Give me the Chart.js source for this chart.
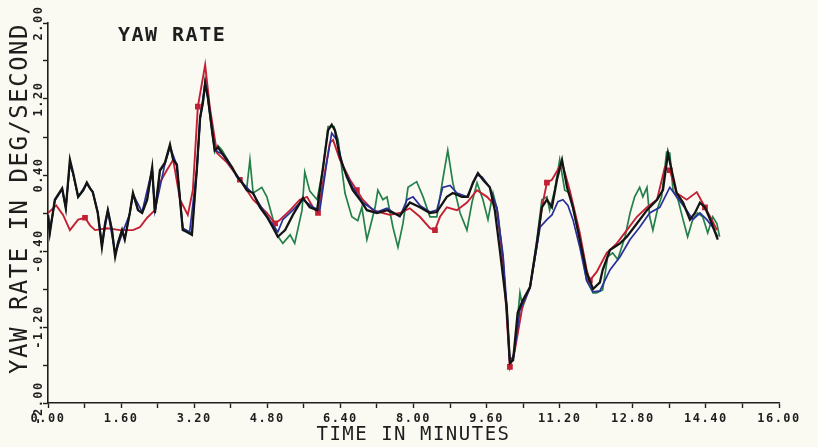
<!DOCTYPE html>
<html>
<head>
<meta charset="utf-8">
<script src="https://cdn.jsdelivr.net/npm/chart.js"></script>
<style>
  html, body { margin: 0; padding: 0; background: #fafaf3; }
  canvas { display: block; }
</style>
</head>
<body>
<canvas id="yawChart" width="818" height="447"></canvas>
<script>
// yaw rate traces: time in minutes, rate in deg/s
const blackTime = [0.00,0.04,0.15,0.31,0.39,0.48,0.55,0.66,0.77,0.85,0.92,0.98,1.09,1.18,1.25,1.31,1.40,1.47,1.53,1.62,1.68,1.79,1.86,1.97,2.06,2.17,2.28,2.34,2.45,2.56,2.67,2.74,2.82,2.95,3.04,3.15,3.26,3.33,3.39,3.44,3.50,3.59,3.65,3.72,3.81,3.92,4.03,4.14,4.25,4.35,4.49,4.64,4.79,4.92,5.03,5.19,5.36,5.58,5.73,5.89,6.02,6.13,6.21,6.28,6.39,6.54,6.67,6.83,6.98,7.20,7.42,7.70,7.92,8.14,8.36,8.51,8.73,8.86,9.06,9.19,9.30,9.41,9.52,9.67,9.78,9.89,10.04,10.11,10.18,10.28,10.39,10.55,10.70,10.81,10.92,11.03,11.14,11.25,11.36,11.49,11.64,11.79,11.93,12.08,12.14,12.30,12.52,12.67,12.89,13.11,13.33,13.46,13.57,13.65,13.76,13.90,14.05,14.16,14.27,14.38,14.53,14.66];
const blackYaw = [-0.02,-0.21,0.14,0.26,0.05,0.56,0.42,0.17,0.24,0.32,0.26,0.22,0.00,-0.36,-0.11,0.03,-0.18,-0.46,-0.32,-0.18,-0.28,0.00,0.21,0.03,0.00,0.14,0.48,0.00,0.45,0.53,0.72,0.56,0.51,-0.18,-0.20,-0.23,0.48,1.01,1.16,1.36,1.22,0.87,0.66,0.69,0.63,0.56,0.48,0.38,0.32,0.24,0.21,0.06,-0.04,-0.15,-0.25,-0.18,-0.02,0.16,0.06,0.03,0.48,0.87,0.93,0.87,0.59,0.38,0.24,0.14,0.03,0.00,0.03,-0.03,0.11,0.06,0.00,0.01,0.17,0.21,0.17,0.17,0.32,0.42,0.35,0.27,0.03,-0.39,-0.99,-1.58,-1.55,-1.05,-0.92,-0.78,-0.32,0.06,0.14,0.06,0.35,0.56,0.27,0.06,-0.28,-0.63,-0.80,-0.73,-0.60,-0.39,-0.32,-0.25,-0.11,0.03,0.14,0.24,0.63,0.45,0.21,0.11,-0.07,0.00,0.11,0.06,-0.11,-0.28];

const blueTime = [0.00,0.04,0.15,0.31,0.39,0.48,0.55,0.66,0.85,0.98,1.09,1.18,1.31,1.47,1.62,1.79,1.86,2.06,2.28,2.34,2.56,2.67,2.82,2.95,3.10,3.26,3.33,3.44,3.50,3.65,3.81,4.03,4.25,4.49,4.79,5.03,5.14,5.36,5.58,5.80,5.95,6.11,6.21,6.32,6.46,6.67,6.89,7.20,7.42,7.70,7.86,7.99,8.14,8.36,8.51,8.64,8.80,8.95,9.17,9.39,9.50,9.67,9.82,9.96,10.04,10.11,10.20,10.33,10.55,10.77,10.92,11.03,11.16,11.27,11.38,11.49,11.64,11.79,11.93,12.08,12.30,12.52,12.74,12.95,13.17,13.39,13.61,13.76,13.98,14.11,14.27,14.42,14.55,14.66];
const blueYaw = [-0.02,-0.19,0.13,0.25,0.06,0.52,0.41,0.17,0.31,0.22,0.01,-0.34,0.02,-0.43,-0.22,-0.01,0.20,0.01,0.46,0.02,0.52,0.70,0.50,-0.16,-0.20,0.46,0.99,1.38,1.20,0.66,0.62,0.47,0.32,0.20,-0.03,-0.20,-0.07,0.03,0.14,0.06,0.03,0.56,0.84,0.77,0.48,0.27,0.11,0.01,0.05,-0.04,0.14,0.17,0.08,0.01,0.03,0.27,0.29,0.21,0.17,0.40,0.38,0.27,0.06,-0.44,-0.97,-1.57,-1.49,-1.02,-0.79,-0.15,-0.07,-0.02,0.12,0.14,0.08,-0.07,-0.36,-0.71,-0.83,-0.82,-0.60,-0.46,-0.28,-0.15,0.00,0.06,0.27,0.17,0.03,-0.07,0.00,-0.07,-0.15,-0.25];

const redTime = [0.00,0.18,0.33,0.48,0.66,0.81,0.92,1.03,1.29,1.58,1.86,2.01,2.17,2.34,2.45,2.60,2.74,2.89,3.06,3.17,3.28,3.44,3.54,3.70,3.92,4.20,4.49,4.79,4.97,5.08,5.30,5.51,5.67,5.80,5.91,6.02,6.17,6.24,6.39,6.61,6.76,6.89,7.11,7.33,7.48,7.70,7.92,8.14,8.36,8.47,8.58,8.73,8.95,9.17,9.39,9.61,9.82,9.96,10.11,10.22,10.39,10.55,10.70,10.81,10.92,11.03,11.25,11.42,11.64,11.79,11.86,12.01,12.23,12.45,12.67,12.89,13.11,13.33,13.50,13.61,13.76,13.98,14.20,14.38,14.53,14.64];
const redYaw = [0.00,0.08,-0.02,-0.18,-0.07,-0.05,-0.13,-0.18,-0.16,-0.18,-0.18,-0.15,-0.05,0.03,0.32,0.45,0.56,0.14,-0.02,0.24,1.12,1.56,1.12,0.63,0.53,0.35,0.14,0.00,-0.11,-0.07,0.03,0.14,0.17,0.06,0.00,0.32,0.74,0.77,0.56,0.35,0.24,0.14,0.03,0.00,-0.02,0.00,0.05,-0.04,-0.16,-0.18,-0.04,0.06,0.03,0.11,0.24,0.17,0.06,-0.49,-1.62,-1.44,-0.97,-0.78,-0.34,0.06,0.32,0.35,0.53,0.24,-0.21,-0.60,-0.71,-0.62,-0.42,-0.32,-0.18,-0.04,0.06,0.14,0.48,0.45,0.21,0.14,0.22,0.06,-0.07,-0.18];
const redMarkTimes = [0.81,3.28,4.20,4.97,5.91,6.76,8.47,10.11,10.92,11.86,13.61,14.38];

const greenTime = [0.00,0.04,0.15,0.31,0.39,0.48,0.55,0.66,0.77,0.85,0.98,1.09,1.18,1.25,1.31,1.40,1.47,1.53,1.62,1.68,1.79,1.86,1.97,2.06,2.17,2.28,2.34,2.45,2.56,2.67,2.74,2.82,2.95,3.04,3.15,3.26,3.33,3.39,3.44,3.50,3.59,3.65,3.72,3.81,3.92,4.03,4.14,4.25,4.35,4.42,4.49,4.68,4.79,4.90,5.01,5.14,5.30,5.40,5.56,5.62,5.73,5.89,6.02,6.13,6.26,6.35,6.50,6.65,6.78,6.87,6.98,7.05,7.16,7.22,7.33,7.42,7.55,7.66,7.77,7.88,8.07,8.21,8.36,8.51,8.64,8.75,8.86,9.02,9.17,9.28,9.39,9.52,9.63,9.74,9.85,9.96,10.04,10.11,10.20,10.33,10.39,10.55,10.70,10.81,10.92,10.98,11.09,11.20,11.31,11.42,11.53,11.64,11.79,11.93,12.01,12.14,12.25,12.36,12.47,12.63,12.74,12.84,12.95,13.02,13.11,13.17,13.24,13.35,13.43,13.54,13.61,13.68,13.79,13.90,14.00,14.11,14.22,14.33,14.44,14.55,14.64,14.70];
const greenYaw = [-0.02,-0.20,0.13,0.25,0.05,0.54,0.41,0.17,0.23,0.31,0.22,0.00,-0.34,-0.11,0.03,-0.17,-0.44,-0.31,-0.18,-0.27,0.00,0.20,0.03,0.00,0.14,0.46,0.01,0.44,0.52,0.70,0.56,0.50,-0.16,-0.19,-0.21,0.47,1.00,1.15,1.40,1.21,0.85,0.64,0.71,0.66,0.57,0.47,0.38,0.31,0.26,0.56,0.21,0.27,0.17,-0.02,-0.23,-0.32,-0.23,-0.32,0.03,0.43,0.23,0.14,0.47,0.91,0.91,0.77,0.21,-0.04,-0.08,0.06,-0.28,-0.15,0.06,0.24,0.14,0.17,-0.15,-0.36,-0.11,0.27,0.33,0.17,-0.04,-0.04,0.35,0.66,0.32,0.00,-0.18,0.11,0.32,0.14,-0.07,0.21,0.00,-0.52,-1.02,-1.57,-1.51,-0.84,-0.99,-0.78,-0.28,0.14,0.17,0.03,0.24,0.56,0.24,0.21,-0.04,-0.28,-0.71,-0.84,-0.84,-0.81,-0.46,-0.42,-0.49,-0.25,0.00,0.17,0.27,0.17,0.27,-0.04,-0.18,0.06,0.17,0.64,0.63,0.24,0.14,-0.07,-0.25,-0.07,0.00,-0.04,-0.21,-0.04,-0.11,-0.25];

const xTickLabels = ['0.00','1.60','3.20','4.80','6.40','8.00','9.60','11.20','12.80','14.40','16.00'];
const yTickLabels = ['-2.00','-1.20','-0.40','0.40','1.20','2.00'];

const ink = '#1e1e1e';
const mono = '"DejaVu Sans Mono", monospace';

function pairs(ts, vs) {
  return ts.map((t, i) => ({ x: t, y: vs[i] }));
}

// plotter lettering is widely spaced
const spacedText = {
  id: 'spacedText',
  beforeUpdate(chart) { chart.ctx.letterSpacing = '1.5px'; },
  beforeDraw(chart) { chart.ctx.letterSpacing = '1.5px'; }
};

// "YAW RATE" sits inside the plot, upper left
const panelLabel = {
  id: 'panelLabel',
  afterDatasetsDraw(chart) {
    const { ctx, scales: { x, y } } = chart;
    ctx.save();
    ctx.letterSpacing = '1.5px';
    ctx.font = 'bold 20px ' + mono;
    ctx.fillStyle = ink;
    ctx.textAlign = 'left';
    ctx.textBaseline = 'middle';
    ctx.fillText('YAW RATE', x.getPixelForValue(1.53), y.getPixelForValue(1.87));
    ctx.restore();
  }
};

const line = (data, color, width) => ({
  data, borderColor: color, backgroundColor: color, borderWidth: width,
  pointRadius: 0, tension: 0, fill: false
});

const red = line(pairs(redTime, redYaw), '#c42034', 1.9);
red.pointStyle = 'rect';
red.pointRadius = ctx => redMarkTimes.includes(redTime[ctx.dataIndex]) ? 2.7 : 0;

new Chart(document.getElementById('yawChart'), {
  type: 'line',
  data: {
    datasets: [
      line(pairs(blackTime, blackYaw), '#141414', 2.3),
      line(pairs(blueTime, blueYaw), '#2a2f9a', 1.7),
      red,
      line(pairs(greenTime, greenYaw), '#23804a', 1.7)
    ]
  },
  options: {
    responsive: false,
    animation: false,
    layout: { padding: { left: 0, top: 23, right: 39, bottom: 0 } },
    plugins: { legend: { display: false }, tooltip: { enabled: false } },
    scales: {
      x: {
        type: 'linear', min: 0, max: 16,
        border: { color: ink, width: 1.6 },
        grid: { drawOnChartArea: false, drawTicks: true, tickLength: 5, tickColor: ink, tickWidth: 1.4 },
        ticks: {
          stepSize: 0.8, autoSkip: false, maxRotation: 0, minRotation: 0, padding: 4,
          color: ink, font: { family: mono, size: 12, weight: 'bold' },
          callback: (v, i) => i % 2 === 0 ? xTickLabels[i / 2] : ''
        },
        title: {
          display: true, text: 'TIME IN MINUTES', color: ink,
          font: { family: mono, size: 19 }, padding: { top: 0, bottom: 1 }
        },
        afterFit(scale) { scale.height = 44; }
      },
      y: {
        type: 'linear', min: -2, max: 2,
        border: { color: ink, width: 1.6 },
        grid: { drawOnChartArea: false, drawTicks: true, tickLength: 5, tickColor: ink, tickWidth: 1.4 },
        ticks: {
          stepSize: 0.4, autoSkip: false, minRotation: 90, maxRotation: 90,
          crossAlign: 'center', padding: -18,
          color: ink, font: { family: mono, size: 12, weight: 'bold' },
          callback: (v, i) => i % 2 === 0 ? yTickLabels[i / 2] : ''
        },
        title: {
          display: true, text: 'YAW RATE IN DEG/SECOND', color: ink, align: 'end',
          font: { family: mono, size: 24 }, padding: { top: 6, bottom: 0 }
        },
        afterFit(scale) { scale.width = 48; }
      }
    }
  },
  plugins: [spacedText, panelLabel]
});
</script>
</body>
</html>
